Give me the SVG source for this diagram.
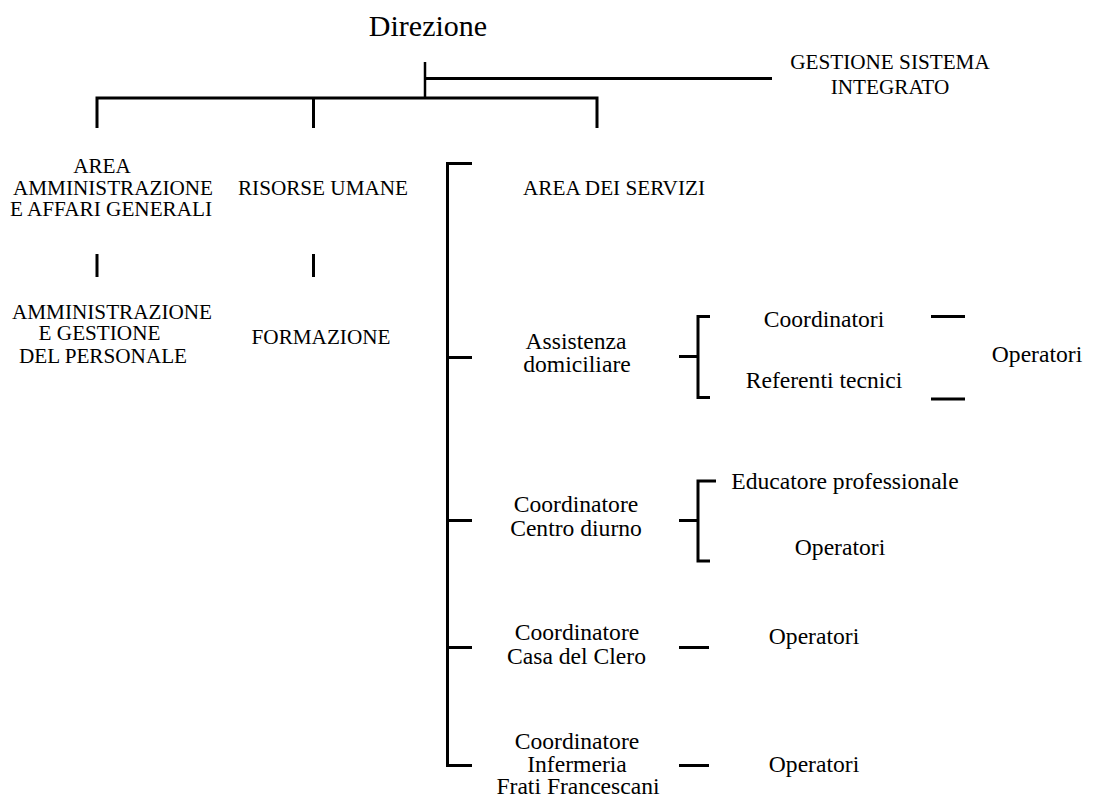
<svg xmlns="http://www.w3.org/2000/svg" width="1098" height="798" viewBox="0 0 1098 798">
<style>
  text { font-family: "Liberation Serif", "Times New Roman", serif; fill: #000; text-anchor: middle; }
  .cap { font-size: 21.2px; }
  .low { font-size: 23.6px; }
  .big { font-size: 30px; }
  .ln { stroke: #000; stroke-width: 3; fill: none; stroke-linecap: butt; stroke-linejoin: miter; }
</style>
<rect width="1098" height="798" fill="#fff"/>

<g id="connectors">
  <path class="ln" style="stroke-width:2.5" d="M425,62 V98"/>
  <path class="ln" d="M425,78.5 H772"/>
  <path class="ln" d="M97,128 V98 H597 V128"/>
  <path class="ln" d="M313.5,98 V128"/>
  <path class="ln" d="M97,254 V277"/>
  <path class="ln" d="M313.5,254 V277"/>
  <path class="ln" d="M472,163.5 H447.5 V765.5 H472"/>
  <path class="ln" d="M447.5,357.5 H472"/>
  <path class="ln" d="M447.5,520.5 H472"/>
  <path class="ln" d="M447.5,647.5 H472"/>
  <path class="ln" d="M679,356.5 H698"/>
  <path class="ln" d="M710,316.5 H698 V397.5 H710"/>
  <path class="ln" d="M931,316.5 H965"/>
  <path class="ln" d="M931,399 H965"/>
  <path class="ln" d="M679,520.5 H698"/>
  <path class="ln" d="M716,481 H698 V561 H710"/>
  <path class="ln" d="M679,647.5 H709"/>
  <path class="ln" d="M679,765.5 H709"/>
</g>

<g id="direzione"><text class="big" x="428" y="36">Direzione</text></g>
<g id="gestione-sistema">
  <text class="cap" x="890" y="69">GESTIONE SISTEMA</text>
  <text class="cap" x="890" y="94">INTEGRATO</text>
</g>
<g id="area-amministrazione">
  <text class="cap" x="102" y="173">AREA</text>
  <text class="cap" x="113" y="195">AMMINISTRAZIONE</text>
  <text class="cap" x="111" y="216">E AFFARI GENERALI</text>
</g>
<g id="risorse-umane"><text class="cap" x="323" y="194.5">RISORSE UMANE</text></g>
<g id="amministrazione-personale">
  <text class="cap" x="112" y="318.5">AMMINISTRAZIONE</text>
  <text class="cap" x="99.5" y="340">E GESTIONE</text>
  <text class="cap" x="103" y="362.5">DEL PERSONALE</text>
</g>
<g id="formazione"><text class="cap" x="321" y="344">FORMAZIONE</text></g>
<g id="area-servizi"><text class="cap" x="614" y="195">AREA DEI SERVIZI</text></g>

<g id="assistenza-domiciliare">
  <text class="low" x="576" y="348.5">Assistenza</text>
  <text class="low" x="577" y="371.5">domiciliare</text>
</g>
<g id="coordinatori"><text class="low" x="824" y="326.5">Coordinatori</text></g>
<g id="referenti-tecnici"><text class="low" x="824" y="387.5">Referenti tecnici</text></g>
<g id="operatori-domiciliare"><text class="low" x="1037" y="361.5">Operatori</text></g>

<g id="coordinatore-centro-diurno">
  <text class="low" x="576" y="512">Coordinatore</text>
  <text class="low" x="576" y="535.5">Centro diurno</text>
</g>
<g id="educatore-professionale"><text class="low" x="845" y="488.5">Educatore professionale</text></g>
<g id="operatori-centro-diurno"><text class="low" x="840" y="555">Operatori</text></g>

<g id="coordinatore-casa-clero">
  <text class="low" x="577" y="639.5">Coordinatore</text>
  <text class="low" x="576.5" y="663.5">Casa del Clero</text>
</g>
<g id="operatori-casa-clero"><text class="low" x="814" y="643.5">Operatori</text></g>

<g id="coordinatore-infermeria">
  <text class="low" x="577" y="748.5">Coordinatore</text>
  <text class="low" x="577" y="771.5">Infermeria</text>
  <text class="low" x="578" y="794">Frati Francescani</text>
</g>
<g id="operatori-infermeria"><text class="low" x="814" y="772">Operatori</text></g>
</svg>
